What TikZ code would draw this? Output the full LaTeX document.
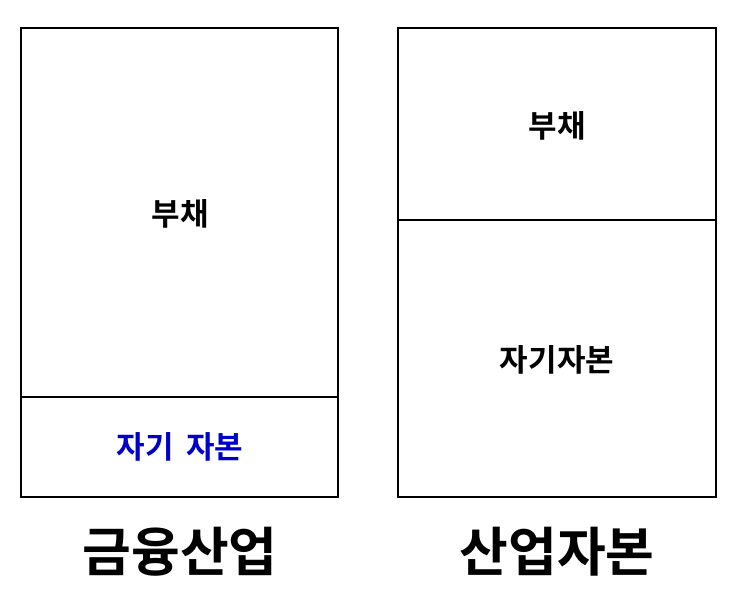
\documentclass[tikz,border=0pt]{standalone}
\usepackage{fontspec}
\setmainfont{Noto Sans CJK KR}[BoldFont={* Bold}]
\definecolor{eqblue}{HTML}{0000CC}
\begin{document}
\begin{tikzpicture}[x=1pt,y=-1pt,
  lbl/.style={font=\bfseries\fontsize{31}{36}\selectfont},
  title/.style={font=\bfseries\fontsize{53}{60}\selectfont}]
\useasboundingbox (0,0) rectangle (735,604);
\draw[line width=1.6pt] (21,28) rectangle (338,497);
\draw[line width=1.6pt] (21,397) -- (338,397);
\draw[line width=1.6pt] (398,28) rectangle (716,497);
\draw[line width=1.6pt] (398,220) -- (716,220);
\node[lbl] (l1) at (180,214) {부채};
\node[lbl,text=eqblue] (l2) at (180,447) {자기\hspace{0.4em}자본};
\node[lbl] (r1) at (557,126) {부채};
\node[lbl] (r2) at (557,360) {자기자본};
\node[title] (t1) at (180,552) {금융산업};
\node[title] (t2) at (557,552) {산업자본};
\end{tikzpicture}
\end{document}
